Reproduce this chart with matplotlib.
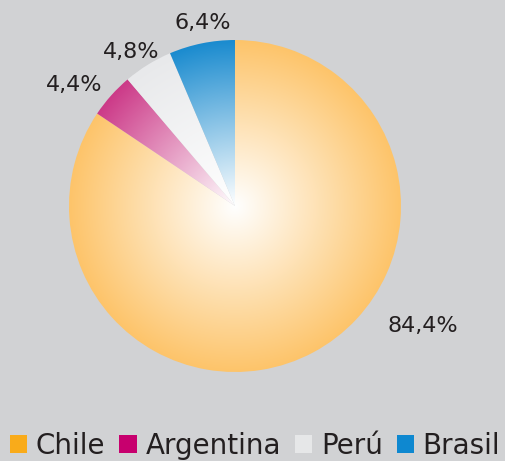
import numpy as np
import matplotlib
matplotlib.use("Agg")
import matplotlib.pyplot as plt
from matplotlib.patches import Patch
from matplotlib.colors import to_rgb

countries = ["Chile", "Argentina", "Perú", "Brasil"]
shares = [84.4, 4.4, 4.8, 6.4]
labels = ["84,4%", "4,4%", "4,8%", "6,4%"]
legend_colors = ["#f9ab1a", "#c7006e", "#e6e7e8", "#0e88d0"]
edge_colors = ["#fdc46a", "#cc3a88", "#e8e9eb", "#1a8bcf"]
# label placement (radius, angle in degrees)
label_pos = [(1.34, -32.5), (1.21, 143), (1.12, 124), (1.12, 100)]

bg = "#d1d2d4"
txt = "#231f20"

fig = plt.figure(figsize=(5.05, 4.61), dpi=100, facecolor=bg)
R = 166
cx, cy = 235, 206
ax = fig.add_axes([(cx - R) / 505, 1 - (cy + R) / 461, 2 * R / 505, 2 * R / 461])
ax.set_facecolor(bg)
ax.axis("off")

wedges, _ = ax.pie(shares, startangle=90, counterclock=False,
                   wedgeprops=dict(linewidth=0, facecolor="none"))
ax.set_xlim(-1, 1)
ax.set_ylim(-1, 1)

# radial gradient: white at center to colour at rim
n = 400
xx, yy = np.meshgrid(np.linspace(-1, 1, n), np.linspace(-1, 1, n))
rr = np.clip(np.hypot(xx, yy), 0, 1)[..., None]
for w, col in zip(wedges, edge_colors):
    c = np.array(to_rgb(col))
    img = (1 - rr) * np.ones(3) + rr * c
    im = ax.imshow(img, extent=[-1, 1, -1, 1], origin="lower", interpolation="bilinear")
    im.set_clip_path(w)

for lab, (r, a) in zip(labels, label_pos):
    t = np.deg2rad(a)
    ax.text(r * np.cos(t), r * np.sin(t), lab, ha="center", va="center",
            fontsize=16, color=txt, clip_on=False)

handles = [Patch(facecolor=c, edgecolor="none") for c in legend_colors]
fig.legend(handles, countries, loc="center", bbox_to_anchor=(0.505, 1 - 446 / 461),
           ncol=4, frameon=False, fontsize=20, handlelength=0.64, handleheight=0.64,
           handletextpad=0.3, columnspacing=0.5, labelcolor=txt, borderaxespad=0,
           borderpad=0)

fig.savefig("out.png", dpi=100, facecolor=bg)
